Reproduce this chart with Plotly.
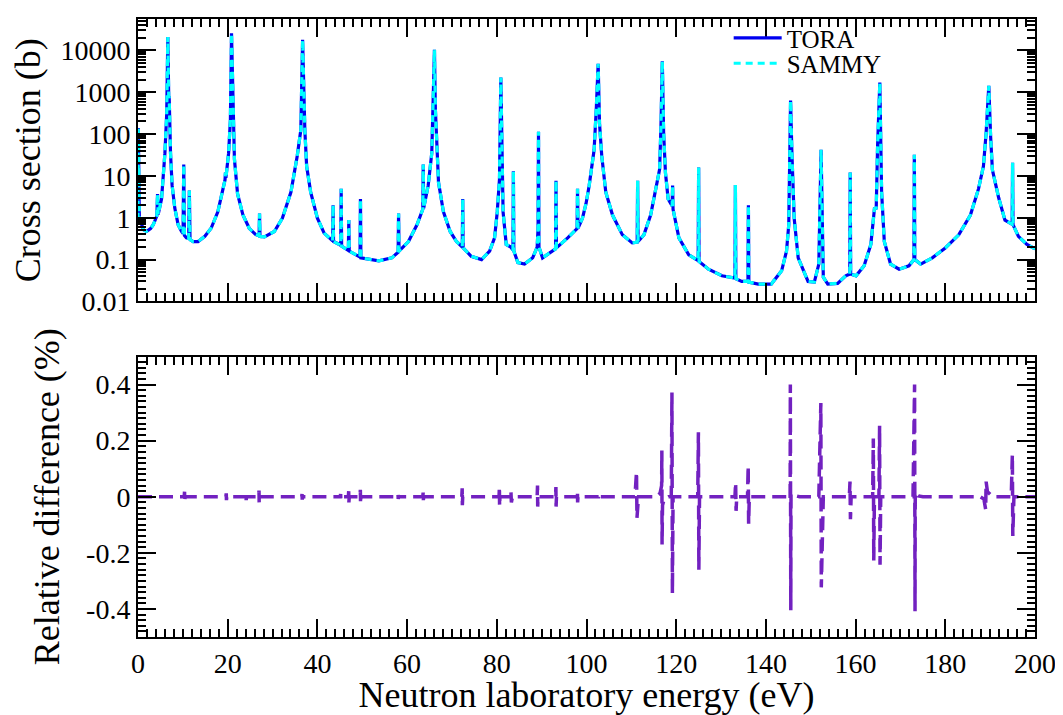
import plotly.graph_objects as go

# ---- Cross section (b) vs neutron energy (eV) ----
energy_ev = [
    0.0, 0.07, 0.3, 1.2, 1.9, 2.8, 3.4, 4.2, 4.36, 4.5, 5.25, 6.0, 6.4, 6.65, 6.85, 6.95,
    7.25, 7.6, 8.2, 8.95, 9.7, 10.05, 10.2, 10.35, 10.8, 11.3, 11.45, 11.6, 12.3, 13.4,
    14.9, 16.3, 17.8, 18.9, 19.4, 19.5, 19.6, 20.2, 20.6, 20.85, 21.2, 21.5, 22.2, 23.4,
    24.8, 26.2, 27.0, 27.1, 27.2, 28.2, 30.4, 32.2, 34.1, 35.5, 36.3, 36.7, 37.2, 37.6,
    38.5, 40.0, 41.5, 43.4, 43.5, 43.6, 45.2, 45.3, 45.4, 46.9, 47.0, 47.1, 49.5, 49.6,
    49.7, 53.7, 56.6, 58.0, 58.1, 58.2, 60.3, 62.2, 63.5, 63.6, 63.7, 64.7, 65.5, 65.8,
    66.1, 66.3, 66.6, 67.0, 68.1, 69.6, 71.0, 72.3, 72.4, 72.5, 74.3, 76.6, 78.4, 79.5,
    80.1, 80.6, 80.9, 81.2, 81.4, 82.1, 83.1, 83.6, 83.7, 83.8, 84.7, 86.2, 88.0, 89.0,
    89.2, 89.3, 89.4, 90.2, 93.1, 93.2, 93.3, 95.8, 97.9, 98.0, 98.1, 99.1, 99.9, 100.6,
    101.7, 102.2, 102.6, 102.9, 103.4, 104.3, 105.8, 108.0, 110.2, 111.3, 111.4, 111.5,
    112.8, 114.3, 115.7, 116.3, 116.6, 116.9, 117.2, 117.6, 118.2, 119.1, 119.2, 119.3,
    120.6, 122.8, 124.9, 125.0, 125.1, 127.2, 130.2, 132.4, 133.1, 133.2, 133.3, 134.6,
    136.0, 136.1, 136.2, 138.3, 141.2, 143.5, 144.6, 145.1, 145.5, 145.8, 146.3, 147.2,
    149.4, 150.8, 151.8, 152.3, 152.6, 152.8, 153.8, 156.0, 157.8, 158.7, 158.8, 158.9,
    160.1, 161.9, 163.4, 164.2, 164.6, 164.9, 165.4, 165.8, 166.4, 167.8, 169.7, 171.9,
    173.0, 173.1, 173.2, 174.5, 177.1, 180.0, 183.0, 185.6, 187.4, 188.5, 189.1, 189.7,
    190.1, 190.5, 191.9, 193.3, 194.9, 195.0, 195.1, 196.3, 198.2, 200.0,
]
sigma_b = [
    0.9, 140, 1.0, 0.52, 0.47, 0.55, 0.68, 1.1, 3.7, 1.2, 2.8, 35, 300, 21000, 800, 770,
    35, 6, 1.7, 0.68, 0.47, 0.42, 18.7, 0.38, 0.33, 0.32, 4.5, 0.3, 0.27, 0.27,
    0.36, 0.56, 1.38, 4.1, 8, 12, 9, 35, 215, 25500, 180, 25, 3.7, 1.16,
    0.56, 0.4, 0.37, 1.26, 0.36, 0.35, 0.47, 0.98, 4.1, 30, 125, 17800, 125, 17,
    4.1, 0.98, 0.43, 0.28, 2.0, 0.27, 0.22, 4.9, 0.21, 0.165, 0.88, 0.16, 0.115, 2.8,
    0.11, 0.093, 0.11, 0.15, 1.26, 0.16, 0.27, 0.68, 1.6, 18.7, 1.7, 5.9, 35, 400,
    10300, 400, 73, 7, 1.38, 0.47, 0.27, 0.2, 2.8, 0.19, 0.12, 0.10, 0.16, 0.33,
    1.38, 8.4, 2240, 12, 1.38, 0.23, 0.2, 0.17, 13, 0.16, 0.085, 0.078, 0.11, 0.2,
    0.56, 114, 0.2, 0.11, 0.18, 7.7, 0.19, 0.33, 0.55, 4.9, 0.56, 0.98, 2.2, 5.9,
    42, 440, 4800, 180, 30, 4.1, 1.16, 0.39, 0.25, 0.26, 7.7, 0.27,
    0.39, 1.16, 5.9, 14.4, 150, 5500, 105, 12, 2.8, 1.9, 5.9, 1.6,
    0.33, 0.13, 0.095, 15.8, 0.09, 0.059, 0.041, 0.038, 0.036, 6.1, 0.035, 0.03,
    0.03, 2.0, 0.029, 0.026, 0.026, 0.054, 0.16, 0.68, 630, 35, 0.98, 0.11,
    0.03, 0.029, 0.078, 42, 0.23, 0.038, 0.026, 0.027, 0.041, 0.045, 12, 0.045,
    0.041, 0.071, 0.23, 1.65, 1.7, 51, 1700, 4.1, 0.27, 0.078, 0.059, 0.071,
    0.1, 32, 0.1, 0.078, 0.11, 0.19, 0.39, 1.16, 4.9, 17, 105, 1420,
    90, 14, 3, 0.88, 0.7, 20.6, 0.68, 0.36, 0.23, 0.18,
]

# ---- Relative difference (%) vs energy (eV) ----
diff_energy_ev = [
    0.0, 10.3, 10.38, 10.42, 10.5, 19.6, 19.68, 19.72, 19.8, 24.0, 24.08, 24.12, 24.2,
    26.9, 26.98, 27.02, 27.1, 36.5, 36.58, 36.62, 36.7, 45.1, 45.18, 45.22, 45.3,
    46.9, 46.98, 47.02, 47.1, 49.5, 49.58, 49.62, 49.7, 57.9, 57.98, 58.02, 58.1,
    63.5, 63.58, 63.62, 63.7, 72.2, 72.28, 72.32, 72.4, 80.5, 80.58, 80.62, 80.7,
    82.9, 83.15, 83.25, 83.5, 89.0, 89.08, 89.12, 89.2, 93.1, 93.18, 93.22, 93.3,
    97.9, 97.98, 98.02, 98.1, 102.7, 102.78, 102.82, 102.9, 110.8, 111.15, 111.25, 111.6,
    115.5, 116.4, 116.75, 116.8, 116.85, 116.95, 117.3, 118.3, 118.9, 119.05, 119.15, 119.3,
    124.8, 124.95, 125.05, 125.2, 133.1, 133.25, 133.35, 133.5, 135.9, 136.05, 136.15, 136.3,
    145.0, 145.4, 145.45, 145.55, 145.6, 146.5, 147.5, 151.8, 152.25, 152.35, 152.8,
    158.6, 158.75, 158.85, 159.0, 163.8, 163.95, 164.05, 164.2, 165.2, 165.35, 165.45, 165.6,
    172.8, 173.15, 173.25, 173.3, 174.0, 175.0, 187.8, 188.6, 189.0, 189.1, 189.4, 190.3,
    191.0, 194.7, 194.95, 195.05, 195.3, 200.0,
]
diff_pct = [
    0.0, 0.0, 0.018, -0.016, 0.0, 0.0, 0.012, -0.012, 0.0, 0.0, 0.012, -0.012, 0.0,
    0.0, 0.022, -0.022, 0.0, 0.0, 0.01, -0.01, 0.0, 0.0, 0.01, -0.01, 0.0,
    0.0, 0.02, -0.02, 0.0, 0.0, 0.025, -0.025, 0.0, 0.0, 0.008, -0.008, 0.0,
    0.0, 0.015, -0.012, 0.0, 0.0, 0.03, -0.03, 0.0, 0.0, 0.036, -0.034, 0.0,
    0.0, 0.02, -0.02, 0.0, 0.0, 0.04, -0.035, 0.0, 0.0, 0.035, -0.035, 0.0,
    0.0, 0.02, -0.02, 0.0, 0.0, 0.006, -0.004, 0.0, 0.0, 0.089, -0.075, 0.0,
    0.0, 0.012, 0.04, 0.165, -0.17, -0.03, -0.01, 0.0, 0.0, 0.372, -0.344, 0.0,
    0.0, 0.23, -0.26, 0.0, 0.0, 0.05, -0.05, 0.0, 0.0, 0.11, -0.096, 0.0,
    0.0, -0.01, 0.40, -0.405, 0.01, 0.004, 0.0, 0.0, 0.334, -0.323, 0.0,
    0.0, 0.054, -0.08, 0.0, 0.0, 0.208, -0.227, 0.0, 0.0, 0.253, -0.242, 0.0,
    0.0, 0.40, -0.408, 0.015, 0.003, 0.0, 0.0, -0.008, -0.045, 0.054, 0.018, 0.004,
    0.0, 0.0, 0.15, -0.14, 0.0, 0.0,
]

xticks_vals = [0, 20, 40, 60, 80, 100, 120, 140, 160, 180, 200]
log_tick_vals = [0.01, 0.1, 1, 10, 100, 1000, 10000]
log_tick_text = ["0.01", "0.1", "1", "10", "100", "1000", "10000"]
diff_tick_vals = [-0.4, -0.2, 0, 0.2, 0.4]
diff_tick_text = ["-0.4", "-0.2", "0", "0.2", "0.4"]

FONT = "Liberation Serif"

fig = go.Figure()
fig.add_trace(go.Scatter(x=energy_ev, y=sigma_b, mode="lines", name="TORA",
                         line=dict(color="#0000f0", width=3.2), xaxis="x", yaxis="y",
                         legend="legend"))
fig.add_trace(go.Scatter(x=energy_ev, y=sigma_b, mode="lines", name="SAMMY",
                         line=dict(color="#00ffff", width=3.2, dash="7px,5px"),
                         xaxis="x", yaxis="y", legend="legend2"))
fig.add_trace(go.Scatter(x=diff_energy_ev, y=diff_pct, mode="lines", showlegend=False,
                         line=dict(color="#7221c0", width=3.5, dash="14px,7px"),
                         xaxis="x2", yaxis="y2"))

common_x = dict(range=[0, 200], tickmode="array", tickvals=xticks_vals,
                ticks="inside", ticklen=18, tickwidth=1.5, tickcolor="black",
                mirror="allticks", showline=True, linewidth=2, linecolor="black",
                showgrid=False, zeroline=False,
                minor=dict(dtick=2, ticks="inside", ticklen=8, tickwidth=1.5,
                           tickcolor="black", showgrid=False))
common_y = dict(ticks="inside", ticklen=18, tickwidth=1.5, tickcolor="black",
                mirror="allticks", showline=True, linewidth=2, linecolor="black",
                showgrid=False, zeroline=False, tickfont=dict(size=28, family=FONT, color="black"))

legend_style = dict(xanchor="left", yanchor="middle", bgcolor="rgba(0,0,0,0)",
                    font=dict(size=25, family=FONT, color="black"), itemwidth=48,
                    borderwidth=0)

# the page adds an 8px body margin: size and margins compensate for it
fig.update_layout(
    width=1055, height=707,
    margin=dict(l=130, r=23, t=7, b=72),
    plot_bgcolor="white", paper_bgcolor="white",
    font=dict(family=FONT, color="black", size=28),
    xaxis=dict(domain=[0, 1], anchor="y", showticklabels=False, **common_x),
    xaxis2=dict(domain=[0, 1], anchor="y2", showticklabels=True,
                tickfont=dict(size=28, family=FONT, color="black"),
                title=dict(text="Neutron laboratory energy (eV)",
                           font=dict(size=36, family=FONT, color="black"), standoff=4),
                **common_x),
    yaxis=dict(domain=[0.543, 1], anchor="x", type="log", range=[-2, 4.75],
               tickmode="array", tickvals=log_tick_vals, ticktext=log_tick_text,
               minor=dict(ticks="inside", ticklen=8, tickwidth=1.5, tickcolor="black",
                          dtick="D1", showgrid=False),
               title=dict(text="Cross section (b)", font=dict(size=36, family=FONT, color="black")),
               **common_y),
    yaxis2=dict(domain=[0, 0.4538], anchor="x2", range=[-0.5, 0.5],
                tickmode="array", tickvals=diff_tick_vals, ticktext=diff_tick_text,
                minor=dict(dtick=0.02, ticks="inside", ticklen=8, tickwidth=1.5,
                           tickcolor="black", showgrid=False),
                title=dict(text="Relative difference (%)", font=dict(size=36, family=FONT, color="black")),
                **common_y),
    legend=dict(x=0.6585, y=0.969, **legend_style),
    legend2=dict(x=0.6585, y=0.928, **legend_style),
    showlegend=True,
)

fig.write_html("out.html")
